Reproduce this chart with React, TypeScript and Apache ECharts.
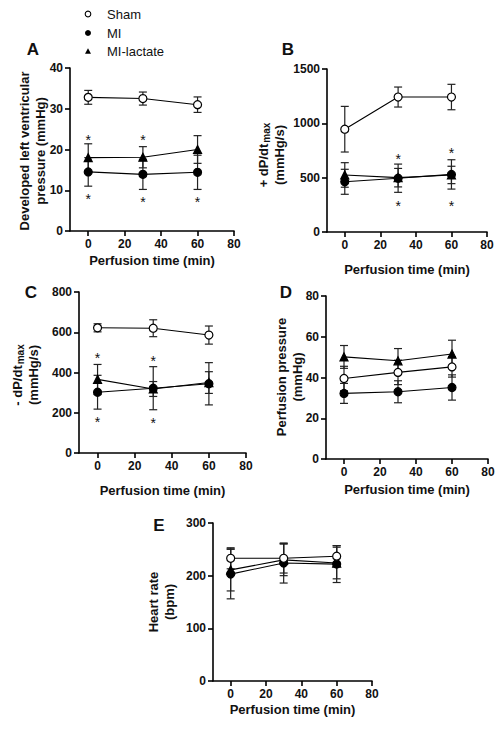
import React, { useEffect, useRef } from "react";
import * as echarts from "echarts";

// ---- data ----
const TIME = [0, 30, 60];
const X_TICKS = [0, 20, 40, 60, 80];

// Panel A: developed LV pressure (mmHg)
const A_SHAM = [32.8, 32.5, 31.0];
const A_SHAM_ERR = [1.7, 1.6, 1.9];
const A_MI = [14.5, 13.9, 14.4];
const A_MI_ERR = [3.5, 3.7, 4.2];
const A_LAC = [18.0, 18.1, 20.0];
const A_LAC_ERR = [3.4, 2.6, 3.4];
const A_STARS = [[0, 23.1], [30, 23.1], [0, 8.6], [30, 7.9], [60, 7.9]];

// Panel B: +dP/dt max (mmHg/s)
const B_SHAM = [946, 1242, 1242];
const B_SHAM_ERR = [210, 92, 117];
const B_MI = [462, 495, 530];
const B_MI_ERR = [115, 130, 135];
const B_LAC = [525, 500, 525];
const B_LAC_ERR = [113, 85, 80];
const B_STARS = [[30, 700], [60, 755], [30, 268], [60, 268]];

// Panel C: -dP/dt max (mmHg/s)
const C_SHAM = [622, 620, 586];
const C_SHAM_ERR = [20, 42, 45];
const C_MI = [302, 322, 344];
const C_MI_ERR = [84, 107, 105];
const C_LAC = [366, 318, 350];
const C_LAC_ERR = [74, 37, 54];
const C_STARS = [[0, 486], [30, 470], [0, 170], [30, 165]];

// Panel D: perfusion pressure (mmHg)
const D_SHAM = [39.5, 42.5, 45.2];
const D_SHAM_ERR = [6.0, 6.0, 5.0];
const D_MI = [32.2, 33.0, 35.1];
const D_MI_ERR = [4.9, 5.4, 6.2];
const D_LAC = [50.1, 48.2, 51.5];
const D_LAC_ERR = [5.6, 6.0, 6.8];

// Panel E: heart rate (bpm)
const E_SHAM = [233, 233, 237];
const E_SHAM_ERR = [20, 28, 20];
const E_MI = [203, 224, 222];
const E_MI_ERR = [47, 38, 35];
const E_LAC = [211, 230, 224];
const E_LAC_ERR = [40, 30, 30];

const Y_MAX = [40, 1500, 800, 80, 300];
const Y_INTERVAL = [10, 500, 200, 20, 100];
const LETTERS = ["A", "B", "C", "D", "E"];
const LEGEND_NAMES = ["Sham", "MI", "MI-lactate"];

const FONT = "'Liberation Sans', Arial, Helvetica, sans-serif";

export default function App() {
  const ref = useRef<HTMLDivElement>(null);

  useEffect(() => {
    if (!ref.current) return;
    const chart = echarts.init(ref.current, undefined, { renderer: "svg" });

    const grids = [
      { left: 70, top: 68, width: 164, height: 163 },
      { left: 327, top: 69, width: 160, height: 163 },
      { left: 79, top: 292, width: 167, height: 161 },
      { left: 326, top: 296, width: 162, height: 163 },
      { left: 213, top: 523, width: 159, height: 158 },
    ];
    const xNameGap = [23, 31, 31, 24, 22];

    const panels = [
      { sham: [A_SHAM, A_SHAM_ERR], mi: [A_MI, A_MI_ERR], lac: [A_LAC, A_LAC_ERR], stars: A_STARS },
      { sham: [B_SHAM, B_SHAM_ERR], mi: [B_MI, B_MI_ERR], lac: [B_LAC, B_LAC_ERR], stars: B_STARS },
      { sham: [C_SHAM, C_SHAM_ERR], mi: [C_MI, C_MI_ERR], lac: [C_LAC, C_LAC_ERR], stars: C_STARS },
      { sham: [D_SHAM, D_SHAM_ERR], mi: [D_MI, D_MI_ERR], lac: [D_LAC, D_LAC_ERR], stars: [] as number[][] },
      { sham: [E_SHAM, E_SHAM_ERR], mi: [E_MI, E_MI_ERR], lac: [E_LAC, E_LAC_ERR], stars: [] as number[][] },
    ];

    const axisLineStyle = { color: "#000", width: 1.6 };
    const labelStyle = { fontWeight: "bold" as const, fontSize: 12, color: "#111", fontFamily: FONT };

    const xAxes = grids.map((_, i) => ({
      type: "value",
      gridIndex: i,
      min: -10,
      max: 80,
      axisLine: { show: true, onZero: false, lineStyle: axisLineStyle },
      axisTick: { show: true, customValues: X_TICKS, length: 5, lineStyle: axisLineStyle },
      axisLabel: { show: true, customValues: X_TICKS, margin: 7, ...labelStyle, formatter: (v: number) => String(v) },
      splitLine: { show: false },
      name: "Perfusion time (min)",
      nameLocation: "middle",
      nameGap: xNameGap[i],
      nameTextStyle: { fontWeight: "bold", fontSize: 13, color: "#111", fontFamily: FONT },
    }));

    const yAxes = grids.map((_, i) => ({
      type: "value",
      gridIndex: i,
      min: 0,
      max: Y_MAX[i],
      interval: Y_INTERVAL[i],
      axisLine: { show: true, onZero: false, lineStyle: axisLineStyle },
      axisTick: { show: true, length: 5, lineStyle: axisLineStyle },
      axisLabel: { show: true, margin: 7, ...labelStyle, formatter: (v: number) => String(v) },
      splitLine: { show: false },
    }));

    const errRender = (params: any, api: any) => {
      const x = api.value(0);
      const m = api.value(1);
      const e = api.value(2);
      const top = api.coord([x, m + e]);
      const bot = api.coord([x, m - e]);
      const w = 4;
      const st = { stroke: "#222", lineWidth: 1.2 };
      return {
        type: "group",
        children: [
          { type: "line", shape: { x1: top[0], y1: top[1], x2: bot[0], y2: bot[1] }, style: st },
          { type: "line", shape: { x1: top[0] - w, y1: top[1], x2: top[0] + w, y2: top[1] }, style: st },
          { type: "line", shape: { x1: bot[0] - w, y1: bot[1], x2: bot[0] + w, y2: bot[1] }, style: st },
        ],
      };
    };

    const starRender = (params: any, api: any) => {
      const p = api.coord([api.value(0), api.value(1)]);
      return {
        type: "text",
        x: p[0],
        y: p[1] + 3,
        style: {
          text: "*",
          textAlign: "center",
          textVerticalAlign: "middle",
          fontSize: 14,
          fontFamily: FONT,
          fill: "#111",
          stroke: "none",
        },
      };
    };

    const groups = [
      { key: "mi", name: "MI", symbol: "circle", size: 8, fill: "#000" },
      { key: "lac", name: "MI-lactate", symbol: "triangle", size: 8, fill: "#000" },
      { key: "sham", name: "Sham", symbol: "circle", size: 8, fill: "#fff" },
    ];

    const series: any[] = [];
    panels.forEach((p: any, i) => {
      groups.forEach((g) => {
        const [mean, err] = p[g.key];
        series.push({
          type: "custom",
          xAxisIndex: i,
          yAxisIndex: i,
          renderItem: errRender,
          itemStyle: { color: "#000" },
          data: TIME.map((t, k) => [t, mean[k], err[k]]),
          encode: { x: 0, y: 1 },
          z: 2,
          silent: true,
        });
      });
      groups.forEach((g, gi) => {
        const [mean] = p[g.key];
        series.push({
          type: "line",
          name: g.name,
          xAxisIndex: i,
          yAxisIndex: i,
          data: TIME.map((t, k) => [t, mean[k]]),
          symbol: g.symbol,
          symbolSize: g.size,
          showAllSymbol: true,
          itemStyle: { color: g.fill, borderColor: "#000", borderWidth: 1.2 },
          lineStyle: { color: "#000", width: 1.1 },
          z: 5 + gi,
          silent: true,
        });
      });
      if (p.stars.length) {
        series.push({
          type: "custom",
          xAxisIndex: i,
          yAxisIndex: i,
          renderItem: starRender,
          itemStyle: { color: "#000" },
          data: p.stars,
          encode: { x: 0, y: 1 },
          z: 10,
          silent: true,
        });
      }
    });

    const titleStyle = { fontSize: 13, fontWeight: "bold", fontFamily: FONT, fill: "#111" };
    const yTitles = [
      { x: 32, y: 151, text: "Developed left ventricular\npressure (mmHg)" },
      { x: 271, y: 155, text: "{b|+ dP/dt}{s|max}\n{b|(mmHg/s)}" },
      { x: 25, y: 375, text: "{b|- dP/dt}{s|max}\n{b|(mmHg/s)}" },
      { x: 289, y: 377, text: "Perfusion pressure\n(mmHg)" },
      { x: 161, y: 602, text: "Heart rate\n(bpm)" },
    ];
    const rich = {
      b: { fontSize: 13, fontWeight: "bold", fontFamily: FONT, fill: "#111", lineHeight: 16 },
      s: { fontSize: 10, fontWeight: "bold", fontFamily: FONT, fill: "#111", lineHeight: 16, verticalAlign: "bottom", padding: [5, 0, 0, 1] },
    };
    const letterPos = [
      [33, 49],
      [288, 49],
      [31, 292],
      [286, 292],
      [159, 525],
    ];

    const graphic: any[] = [];
    yTitles.forEach((t) => {
      graphic.push({
        type: "text",
        x: t.x,
        y: t.y,
        rotation: Math.PI / 2,
        style: {
          text: t.text,
          textAlign: "center",
          textVerticalAlign: "middle",
          lineHeight: 16,
          rich,
          ...titleStyle,
        },
      });
    });
    LETTERS.forEach((l, i) => {
      graphic.push({
        type: "text",
        x: letterPos[i][0],
        y: letterPos[i][1],
        style: {
          text: l,
          textAlign: "center",
          textVerticalAlign: "middle",
          fontSize: 17,
          fontWeight: "bold",
          fontFamily: FONT,
          fill: "#111",
        },
      });
    });
    // legend
    graphic.push({ type: "circle", shape: { cx: 88, cy: 14, r: 2.8 }, style: { fill: "#fff", stroke: "#000", lineWidth: 1.1 } });
    graphic.push({ type: "circle", shape: { cx: 88, cy: 33, r: 3 }, style: { fill: "#000" } });
    graphic.push({ type: "polygon", shape: { points: [[88, 48.3], [85, 53.7], [91, 53.7]] }, style: { fill: "#000" } });
    const legendY = [14, 33, 51];
    LEGEND_NAMES.forEach((t, i) => {
      graphic.push({
        type: "text",
        x: 107,
        y: legendY[i],
        style: { text: t, textVerticalAlign: "middle", fontSize: 13, fontFamily: FONT, fill: "#111" },
      });
    });

    chart.setOption({
      animation: false,
      backgroundColor: "#fff",
      grid: grids,
      xAxis: xAxes,
      yAxis: yAxes,
      series,
      graphic,
    });

    return () => chart.dispose();
  }, []);

  return (
    <div
      ref={ref}
      style={{ position: "fixed", left: 0, top: 0, width: 500, height: 733, background: "#fff" }}
    />
  );
}
